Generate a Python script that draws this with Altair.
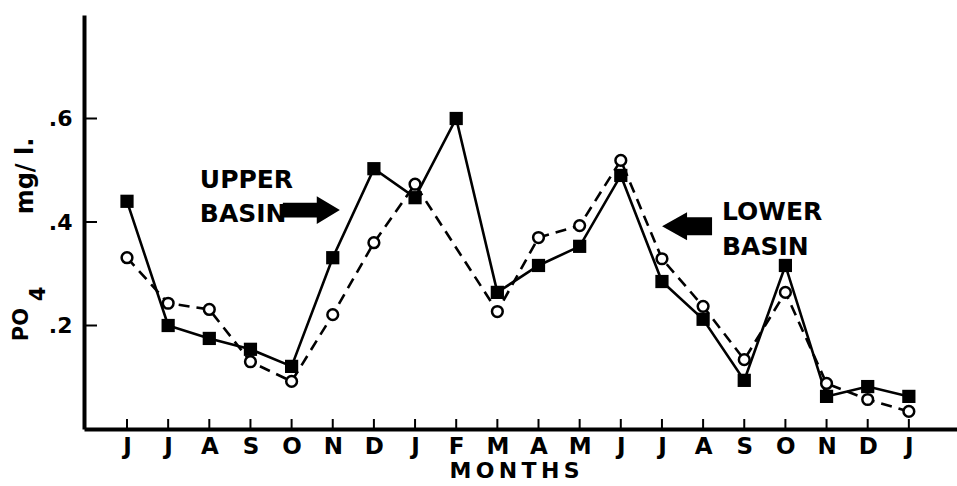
import json

import altair as alt
import pandas as pd

# Month initials along the x axis (June through the following January)
MONTHS = ["J", "J", "A", "S", "O", "N", "D", "J", "F", "M",
          "A", "M", "J", "J", "A", "S", "O", "N", "D", "J"]

# PO4 concentration, mg/l
UPPER_BASIN = [0.440, 0.200, 0.175, 0.154, 0.121, 0.331, 0.503, 0.447, 0.600, 0.264,
               0.316, 0.353, 0.490, 0.285, 0.212, 0.094, 0.316, 0.063, 0.082, 0.063]
LOWER_BASIN = [0.331, 0.243, 0.231, 0.130, 0.092, 0.221, 0.360, 0.473, None, 0.227,
               0.370, 0.393, 0.519, 0.329, 0.237, 0.134, 0.264, 0.088, 0.057, 0.034]

Y_TICKS = [0.2, 0.4, 0.6]

FONT = "DejaVu Sans"

upper = pd.DataFrame({"idx": range(len(MONTHS)), "month": MONTHS, "po4": UPPER_BASIN})
lower = pd.DataFrame({"idx": range(len(MONTHS)), "month": MONTHS, "po4": LOWER_BASIN})
lower = lower.dropna().reset_index(drop=True)  # no sample in February: line joins J to M

W, H = 873, 414

x_scale = alt.Scale(domain=[-1.045, 20.17], nice=False, zero=False)
y_scale = alt.Scale(domain=[0, 0.8], nice=False, zero=True)

x_axis = alt.Axis(
    values=list(range(len(MONTHS))),
    labelExpr=json.dumps(MONTHS) + "[datum.value]",
    title="M\u2009O\u2009N\u2009T\u2009H\u2009S",
    titleX=430,
    titlePadding=2,
    titleFontSize=22,
    labelFontSize=23,
    labelPadding=6,
    labelFlush=False,
    labelOverlap=False,
    ticks=False,
    tickSize=0,
    grid=False,
)
y_axis = alt.Axis(
    values=Y_TICKS,
    labelExpr="'.' + format(datum.value * 10, 'd')",
    title=None,
    labelFontSize=22,
    labelPadding=12,
    ticks=False,
    tickSize=0,
    grid=False,
)

# every layer carries the same axis definition so the shared axes merge cleanly
X = alt.X("idx:Q", scale=x_scale, axis=x_axis)
Y = alt.Y("po4:Q", scale=y_scale, axis=y_axis)

upper_line = alt.Chart(upper).mark_line(color="black", strokeWidth=2.6).encode(x=X, y=Y)
lower_line = alt.Chart(lower).mark_line(
    color="black", strokeWidth=2.6, strokeDash=[11, 7]
).encode(x=X, y=Y)

upper_pts = alt.Chart(upper).mark_point(
    shape="square", filled=True, color="black", size=175, opacity=1
).encode(x=X, y=Y)
lower_pts = alt.Chart(lower).mark_point(
    shape="circle", filled=True, fill="white", stroke="black", strokeWidth=2.5,
    size=115, opacity=1
).encode(x=X, y=Y)

# inward tick marks on both axes
x_ticks = alt.Chart(pd.DataFrame({"idx": range(len(MONTHS))})).mark_rule(
    color="black", strokeWidth=2
).encode(x=X, y=alt.value(H), y2=alt.value(H - 10))
y_ticks = alt.Chart(pd.DataFrame({"po4": Y_TICKS})).mark_rule(
    color="black", strokeWidth=2
).encode(y=Y, x=alt.value(0), x2=alt.value(13))

# basin labels and arrows
labels = pd.DataFrame({
    "idx": [1.77, 1.77, 14.46, 14.46],
    "po4": [0.466, 0.400, 0.404, 0.336],
    "text": ["UPPER", "BASIN", "LOWER", "BASIN"],
})
basin_text = alt.Chart(labels).mark_text(
    align="left", baseline="alphabetic", font=FONT, fontWeight="bold",
    fontSize=25, color="black"
).encode(x=X, y=Y, text="text:N")

RIGHT_ARROW = "M-1,-0.26L0.19,-0.26L0.19,-0.49L1,0L0.19,0.49L0.19,0.26L-1,0.26Z"
LEFT_ARROW = "M-1,0L0,-0.56L0,-0.36L1,-0.36L1,0.36L0,0.36L0,0.56Z"

arrow_up = alt.Chart(pd.DataFrame({"idx": [4.48], "po4": [0.423]})).mark_point(
    shape=RIGHT_ARROW, filled=True, color="black", size=3249, opacity=1
).encode(x=X, y=Y)
arrow_low = alt.Chart(pd.DataFrame({"idx": [13.61], "po4": [0.392]})).mark_point(
    shape=LEFT_ARROW, filled=True, color="black", size=2500, opacity=1
).encode(x=X, y=Y)

# rotated y-axis title: PO with subscript 4, then the unit
def y_title_piece(text, px, py, size):
    return alt.Chart(pd.DataFrame({"t": [text]})).mark_text(
        angle=270, align="center", baseline="alphabetic", font=FONT,
        fontWeight="bold", fontSize=size, color="black"
    ).encode(text="t:N", x=alt.value(px), y=alt.value(py))

title_po = y_title_piece("PO", -56, 309.5, 21)
title_4 = y_title_piece("4", -39, 279, 21)
title_unit = y_title_piece("mg/ l.", -51, 161, 24)

chart = alt.layer(
    upper_line, lower_line, x_ticks, y_ticks, upper_pts, lower_pts,
    basin_text, arrow_up, arrow_low, title_po, title_4, title_unit,
).properties(
    width=W,
    height=H,
    autosize=alt.AutoSizeParams(type="none"),
    padding={"left": 84, "top": 15, "right": 0, "bottom": 57},
    background="white",
).configure_view(
    stroke=None
).configure_axis(
    domainColor="black",
    domainWidth=4,
    labelColor="black",
    labelFont=FONT,
    labelFontWeight="bold",
    titleColor="black",
    titleFont=FONT,
    titleFontWeight="bold",
)

chart.save("out.html", embed_options={"renderer": "svg", "actions": False})
